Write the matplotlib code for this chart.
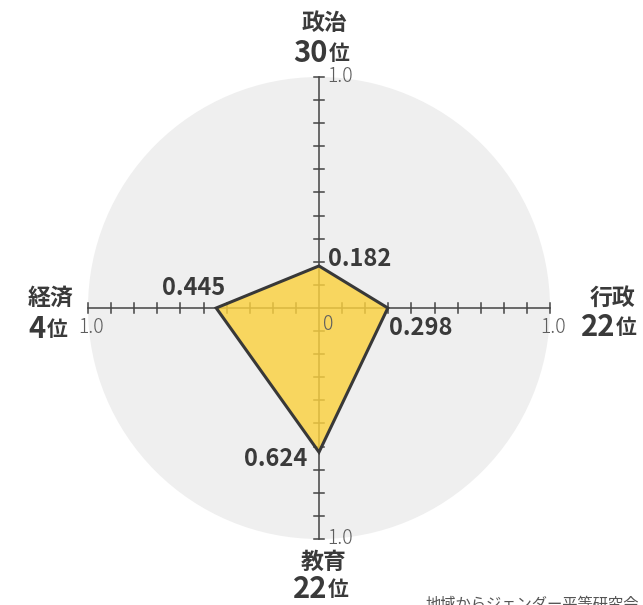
import matplotlib.pyplot as plt
import numpy as np
from matplotlib.patches import Circle, Polygon

plt.rcParams['font.family'] = ['Noto Sans CJK JP', 'DejaVu Sans']

# data
categories = ['政治', '行政', '教育', '経済']
ranks = ['30', '22', '22', '4']
values = [0.182, 0.298, 0.624, 0.445]
angles = [90, 0, 270, 180]  # degrees, top/right/bottom/left

W, H = 643, 605
R = 231.0          # pixel radius of 1.0
cx, cy = 319, 308  # centre in pixels (from top)
px = 1 / R         # one pixel in data units

fig = plt.figure(figsize=(W / 100, H / 100), dpi=100)
ax = fig.add_axes([0, 0, 1, 1])
ax.set_xlim(-cx / R, (W - cx) / R)
ax.set_ylim(-(H - cy) / R, cy / R)
ax.set_aspect('equal')
ax.axis('off')

ax.add_patch(Circle((0, 0), 1.0, facecolor='#efefef', edgecolor='none', zorder=0))

axis_col = '#444444'
tick = 5 * px
for a in angles:
    dx, dy = np.cos(np.radians(a)), np.sin(np.radians(a))
    ax.plot([0, dx], [0, dy], color=axis_col, lw=1.1, zorder=1)
    for t in np.arange(1, 11) / 10:
        x0, y0 = dx * t, dy * t
        ax.plot([x0 - dy * tick, x0 + dy * tick], [y0 - dx * tick, y0 + dx * tick],
                color=axis_col, lw=1.1, zorder=1)

pts = [(np.cos(np.radians(a)) * v, np.sin(np.radians(a)) * v) for a, v in zip(angles, values)]
ax.add_patch(Polygon(pts, closed=True, facecolor='#fbd13f', alpha=0.82,
                     edgecolor='none', zorder=2))
ax.add_patch(Polygon(pts, closed=True, facecolor='none', edgecolor='#383838',
                     lw=2.2, joinstyle='miter', zorder=3))

val_col = '#3a3a3a'
vkw = dict(fontsize=17, weight='bold', color=val_col, zorder=4)
# value labels
ax.text(9 * px, values[0] - 5 * px, f'{values[0]:.3f}', ha='left', va='bottom', **vkw)
ax.text(values[1] + 1 * px, -8 * px, f'{values[1]:.3f}', ha='left', va='top', **vkw)
ax.text(-12 * px, -values[2] - 7 * px, f'{values[2]:.3f}', ha='right', va='center', **vkw)
ax.text(-values[3] - 23 * px, 8 * px, f'{values[3]:.3f}', ha='center', va='bottom', **vkw)

# scale labels
gray = '#5e5e5e'
skw = dict(fontsize=14, weight='light', color=gray, zorder=4)
ax.text(4 * px, -6 * px, '0', ha='left', va='top', **skw)
ax.text(8 * px, 1.0, '1.0', ha='left', va='center', **skw)
ax.text(8 * px, -1.0, '1.0', ha='left', va='center', **skw)
ax.text(1.0 + 3 * px, -20 * px, '1.0', ha='center', va='center', **skw)
ax.text(-1.0 + 3 * px, -20 * px, '1.0', ha='center', va='center', **skw)

# category labels with ranks
lab_col = '#3a3a3a'
nkw = dict(fontsize=16.5, weight='bold', color=lab_col)
rkw = dict(fontsize=21, weight='bold', color=lab_col)
wkw = dict(fontsize=15, weight='bold', color=lab_col)


def cat_label(xc, yname, yrank, xsplit, name, rank):
    # xc, yname, yrank, xsplit in pixels from top-left
    ax.text((xc - cx) * px, (cy - yname) * px, name, ha='center', va='center', **nkw)
    ax.text((xsplit - cx) * px, (cy - yrank) * px, rank, ha='right', va='center', **rkw)
    ax.text((xsplit - cx + 1) * px, (cy - yrank - 1) * px, '位', ha='left', va='center', **wkw)


cat_label(324, 24, 53, 328, categories[0], ranks[0])
cat_label(612, 298, 327, 615, categories[1], ranks[1])
cat_label(324, 562, 589, 327, categories[2], ranks[2])
cat_label(51, 298, 329, 46, categories[3], ranks[3])

# source (cut off at the bottom edge, as in the original)
ax.text((425 - cx) * px, -(H - cy + 8) * px, '地域からジェンダー平等研究会', fontsize=11,
        color='#555555', ha='left', va='bottom', clip_on=False)

fig.savefig('out.png', dpi=100)
